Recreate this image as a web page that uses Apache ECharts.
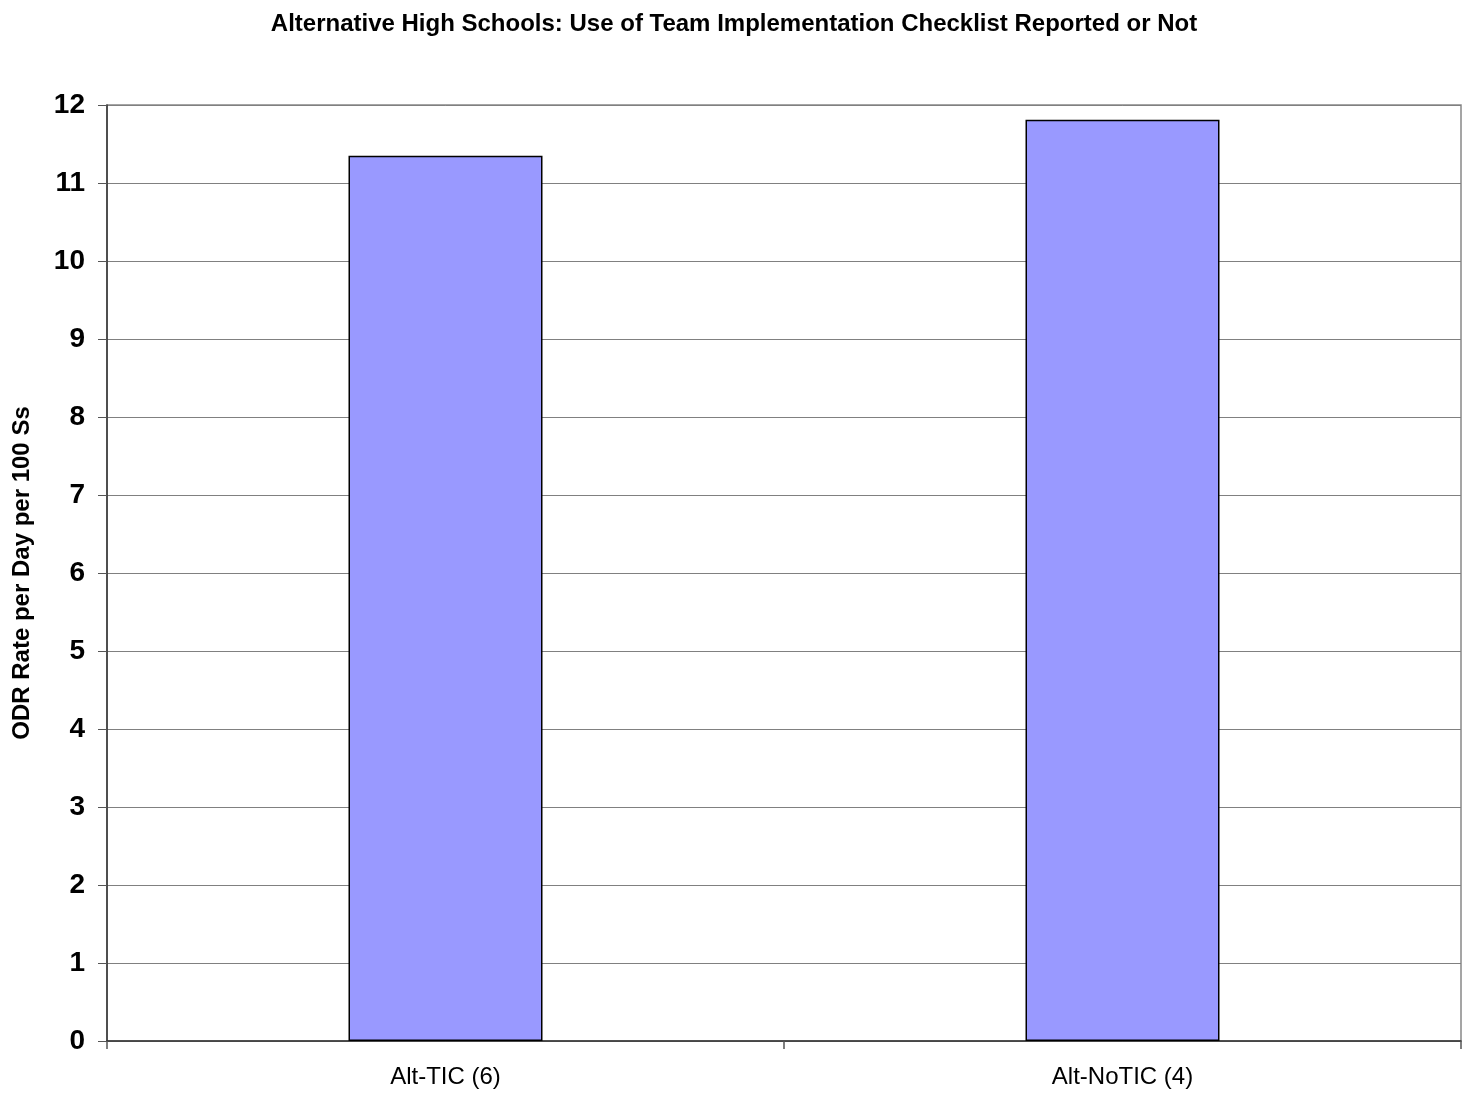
<!DOCTYPE html>
<html>
<head>
<meta charset="utf-8">
<script src="https://cdn.jsdelivr.net/npm/echarts@6/dist/echarts.min.js"></script>
<style>
  html, body { margin: 0; padding: 0; background: #fff; }
  #chart { width: 1468px; height: 1103px; }
</style>
</head>
<body>
<div id="chart"></div>
<script>
// ODR rates for alternative high schools, grouped by TIC reporting
const categories = ['Alt-TIC (6)', 'Alt-NoTIC (4)'];
const odrRates = [11.35, 11.81];
const yTicks = [0, 12, 1]; // min, max, interval

const FONT = 'Liberation Sans, Arial, sans-serif';
const chart = echarts.init(document.getElementById('chart'));
chart.setOption({
  animation: false,
  backgroundColor: '#ffffff',
  textStyle: { fontFamily: FONT },
  title: {
    text: 'Alternative High Schools: Use of Team Implementation Checklist Reported or Not',
    left: 'center',
    top: 7,
    textStyle: { fontSize: 24, fontWeight: 'bold', color: '#000', fontFamily: FONT }
  },
  grid: {
    left: 107, right: 7, top: 105, bottom: 62,
    show: true, borderColor: '#888888', borderWidth: 1.5
  },
  xAxis: {
    type: 'category',
    data: categories,
    axisLine: { lineStyle: { color: '#333', width: 1.5 } },
    axisTick: { show: true, alignWithLabel: false, length: 8, lineStyle: { color: '#555', width: 1.5 } },
    axisLabel: { fontSize: 24, color: '#000', margin: 24, fontFamily: FONT }
  },
  yAxis: {
    type: 'value',
    min: yTicks[0], max: yTicks[1], interval: yTicks[2],
    name: 'ODR Rate per Day per 100 Ss',
    nameLocation: 'middle',
    nameGap: 73,
    nameTextStyle: { fontSize: 24, fontWeight: 'bold', color: '#000', fontFamily: FONT },
    axisLine: { show: true, lineStyle: { color: '#333', width: 1.5 } },
    axisTick: { show: true, length: 9, lineStyle: { color: '#555', width: 1 } },
    axisLabel: { fontSize: 28, fontWeight: 'bold', color: '#000', margin: 22, fontFamily: FONT },
    splitLine: { show: true, lineStyle: { color: '#808080', width: 1 } }
  },
  series: [{
    type: 'bar',
    data: odrRates,
    barWidth: 194,
    itemStyle: { color: '#9999ff', borderColor: '#000', borderWidth: 1.5 }
  }]
});
</script>
</body>
</html>
